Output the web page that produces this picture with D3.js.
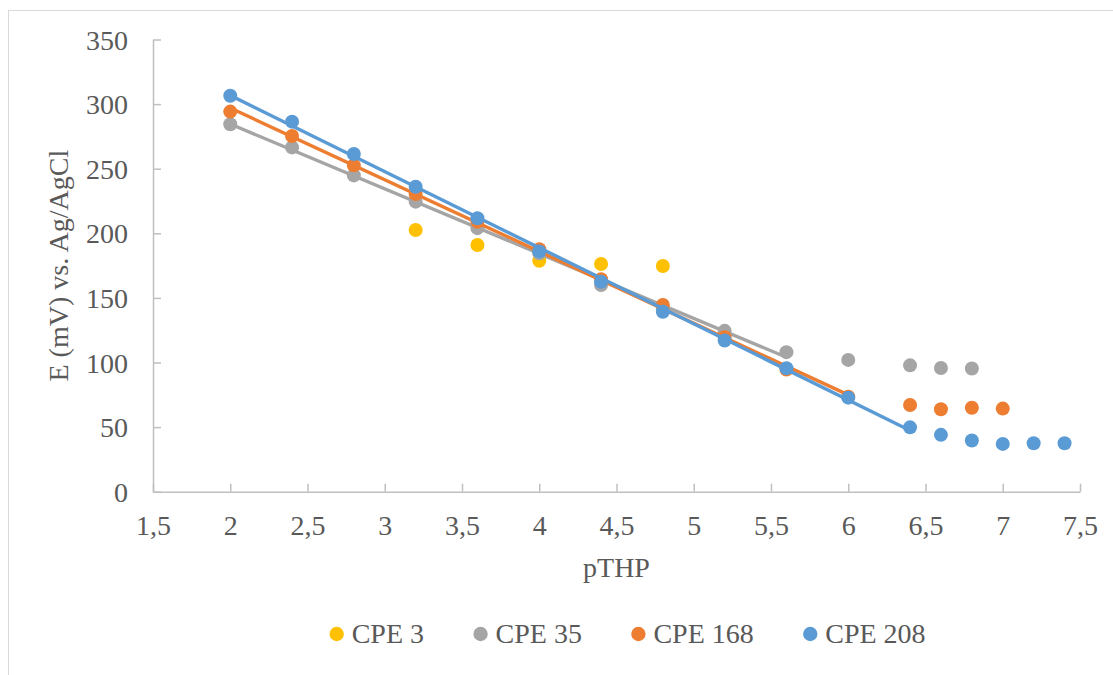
<!DOCTYPE html>
<html>
<head>
<meta charset="utf-8">
<script src="https://cdn.jsdelivr.net/npm/d3@7"></script>
<style>
  html, body { margin: 0; padding: 0; background: #ffffff; }
  svg { display: block; }
  text { font-family: "Liberation Serif", "Times New Roman", serif; fill: #595959; }
</style>
</head>
<body>
<svg id="chart" width="1113" height="675"></svg>
<script>
// ---- data ----
const seriesNames = ["CPE 3", "CPE 35", "CPE 168", "CPE 208"];
const seriesColors = ["#FFC000", "#A5A5A5", "#ED7D31", "#5B9BD5"];

// CPE 3 (markers only)
const cpe3X = [3.2, 3.6, 4.0, 4.4, 4.8];
const cpe3Y = [202.5, 191, 178.8, 176.2, 174.7];

// CPE 35: linear range + extra points
const cpe35X = [2, 2.4, 2.8, 3.2, 3.6, 4.0, 4.4, 4.8, 5.2, 5.6];
const cpe35Y = [284.4, 266.5, 244.8, 224.5, 204, 184.5, 160, 142, 124.5, 108];
const cpe35ExtraX = [6.0, 6.4, 6.6, 6.8];
const cpe35ExtraY = [102, 97.8, 95.8, 95.3];

// CPE 168
const cpe168X = [2, 2.4, 2.8, 3.2, 3.6, 4.0, 4.4, 4.8, 5.2, 5.6, 6.0];
const cpe168Y = [294.2, 275.3, 252.6, 230.4, 209, 187.6, 164.4, 144.5, 119.5, 94.5, 73.5];
const cpe168ExtraX = [6.4, 6.6, 6.8, 7.0];
const cpe168ExtraY = [67.1, 63.8, 65, 64.3];

// CPE 208
const cpe208X = [2, 2.4, 2.8, 3.2, 3.6, 4.0, 4.4, 4.8, 5.2, 5.6, 6.0, 6.4];
const cpe208Y = [306.5, 286.4, 261.4, 236, 211.6, 186, 162.5, 139.3, 117, 95.5, 72.8, 49.8];
const cpe208ExtraX = [6.6, 6.8, 7.0, 7.2, 7.4];
const cpe208ExtraY = [44, 39.6, 37, 37.5, 37.5];

const xTicks = [1.5, 2, 2.5, 3, 3.5, 4, 4.5, 5, 5.5, 6, 6.5, 7, 7.5];
const xTickLabels = ["1,5", "2", "2,5", "3", "3,5", "4", "4,5", "5", "5,5", "6", "6,5", "7", "7,5"];
const yTicks = [0, 50, 100, 150, 200, 250, 300, 350];

const xTitle = "pTHP";
const yTitle = "E (mV) vs. Ag/AgCl";

// ---- build ----
const zip = (xs, ys) => xs.map((x, i) => ({ x, y: ys[i] }));
const series = [
  { name: seriesNames[0], color: seriesColors[0], fit: [], extra: zip(cpe3X, cpe3Y) },
  { name: seriesNames[1], color: seriesColors[1], fit: zip(cpe35X, cpe35Y), extra: zip(cpe35ExtraX, cpe35ExtraY) },
  { name: seriesNames[2], color: seriesColors[2], fit: zip(cpe168X, cpe168Y), extra: zip(cpe168ExtraX, cpe168ExtraY) },
  { name: seriesNames[3], color: seriesColors[3], fit: zip(cpe208X, cpe208Y), extra: zip(cpe208ExtraX, cpe208ExtraY) }
];

const svg = d3.select("#chart");
const W = 1113, H = 675;

// chart border (extends past right/bottom edges like the reference)
svg.append("rect")
  .attr("x", 8.5).attr("y", 10.5)
  .attr("width", W + 10).attr("height", H + 10)
  .attr("fill", "#fff").attr("stroke", "#d9d9d9").attr("stroke-width", 1);

const x = d3.scaleLinear().domain([1.5, 7.5]).range([153, 1080]);
const y = d3.scaleLinear().domain([0, 350]).range([491.7, 39.5]);

const axisColor = "#bfbfbf";
const fontSize = 28;

// x axis
const xAxis = svg.append("g").attr("transform", `translate(0,${y(0)})`)
  .call(d3.axisBottom(x).tickValues(xTicks).tickSizeInner(-8).tickSizeOuter(0)
    .tickFormat((d, i) => xTickLabels[i]));
xAxis.select(".domain").attr("stroke", axisColor).attr("stroke-width", 1.5);
xAxis.selectAll(".tick line").attr("stroke", axisColor).attr("stroke-width", 1.5);
xAxis.selectAll(".tick text")
  .attr("y", 0).attr("dy", null)
  .attr("transform", "translate(0,43)")
  .attr("font-size", fontSize).attr("fill", "#595959");

// y axis
const yAxis = svg.append("g").attr("transform", `translate(${x(1.5)},0)`)
  .call(d3.axisLeft(y).tickValues(yTicks).tickSizeInner(-8).tickSizeOuter(0));
yAxis.select(".domain").attr("stroke", axisColor).attr("stroke-width", 1.5);
yAxis.selectAll(".tick line").attr("stroke", axisColor).attr("stroke-width", 1.5);
yAxis.selectAll(".tick text")
  .attr("x", -25).attr("dy", "0.34em")
  .attr("font-size", fontSize).attr("fill", "#595959");
svg.selectAll(".tick text").style("font-family", '"Liberation Serif", "Times New Roman", serif');

// axis titles
svg.append("text")
  .attr("x", (x.range()[0] + x.range()[1]) / 2).attr("y", 577)
  .attr("text-anchor", "middle").attr("font-size", fontSize)
  .text(xTitle);
svg.append("text")
  .attr("transform", `translate(68,${(y.range()[0] + y.range()[1]) / 2}) rotate(-90)`)
  .attr("text-anchor", "middle").attr("font-size", fontSize)
  .text(yTitle);

// linear regression
function linFit(pts) {
  const mx = d3.mean(pts, d => d.x), my = d3.mean(pts, d => d.y);
  let sxy = 0, sxx = 0;
  pts.forEach(d => { sxy += (d.x - mx) * (d.y - my); sxx += (d.x - mx) * (d.x - mx); });
  const b = sxy / sxx, a = my - b * mx;
  const [x0, x1] = d3.extent(pts, d => d.x);
  return [{ x: x0, y: a + b * x0 }, { x: x1, y: a + b * x1 }];
}

const line = d3.line().x(d => x(d.x)).y(d => y(d.y));
const plot = svg.append("g");

series.forEach(s => {
  const g = plot.append("g");
  const pts = s.fit.concat(s.extra);
  if (s.fit.length > 1) {
    g.append("path").datum(linFit(s.fit))
      .attr("d", line).attr("fill", "none")
      .attr("stroke", s.color).attr("stroke-width", 3.4).attr("stroke-linecap", "round");
  }
  g.selectAll("circle").data(pts).enter().append("circle")
    .attr("cx", d => x(d.x)).attr("cy", d => y(d.y))
    .attr("r", 7).attr("fill", s.color);
});

// legend
const legend = svg.append("g");
let lx = 336.7;
series.forEach(s => {
  legend.append("circle").attr("cx", lx).attr("cy", 634).attr("r", 7.2).attr("fill", s.color);
  const t = legend.append("text").attr("x", lx + 15).attr("y", 643)
    .attr("font-size", fontSize).text(s.name);
  lx = lx + 15 + t.node().getComputedTextLength() + 56.5;
});
</script>
</body>
</html>
